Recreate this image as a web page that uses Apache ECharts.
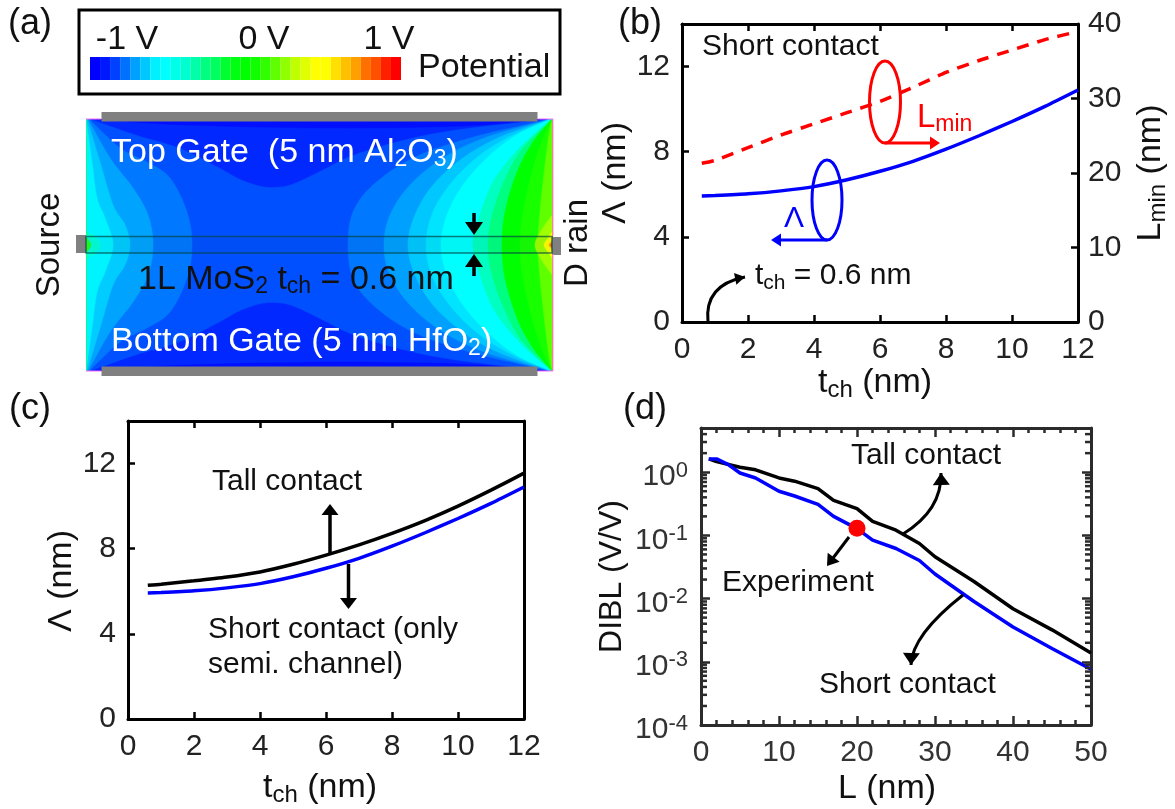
<!DOCTYPE html>
<html><head><meta charset="utf-8">
<style>html,body{margin:0;padding:0;background:#fff}#c{width:1175px;height:809px}</style>
<script src="https://cdn.jsdelivr.net/npm/echarts@6/dist/echarts.min.js"></script>
</head><body><div id="c"></div>
<script>
// ---------- panel (b)/(c) data ----------
const tch = [0.6,1,2,3,4,5,6,7,8,9,10,11,12];
const lambdaShort = [5.92,5.94,6.02,6.16,6.36,6.68,7.08,7.55,8.12,8.75,9.42,10.13,10.9];
const lambdaTall = [6.28,6.33,6.49,6.67,6.91,7.27,7.7,8.18,8.72,9.32,10.0,10.75,11.55];
const lMin = [21.3,21.7,23.4,25.1,26.6,28.1,29.6,31.5,33.5,35.1,36.5,37.9,39];
// ---------- panel (d) data ----------
const lTall = [1,2,5,7,10,12,15,17,20,22,25,28,30,35,40,45,50];
const dibTall = [1.62,1.47,1.2,1.09,0.81,0.72,0.55,0.358,0.265,0.167,0.121,0.0745,0.0459,0.0186,0.0069,0.0032,0.00138];
const lShort = [1,2,3.5,5,7,10,12,15,17,20,22,25,28,30,35,40,45,50];
const dibShort = [1.62,1.62,1.32,0.97,0.81,0.5,0.42,0.31,0.2,0.128,0.084,0.062,0.04,0.0245,0.009,0.00355,0.00162,0.00076];
const experiment = [[20,0.13]];
const logMinorTicks = [2e-4,3e-4,4e-4,5e-4,6e-4,7e-4,8e-4,9e-4,2e-3,3e-3,4e-3,5e-3,6e-3,7e-3,8e-3,9e-3,
  0.02,0.03,0.04,0.05,0.06,0.07,0.08,0.09,0.2,0.3,0.4,0.5,0.6,0.7,0.8,0.9,2,3,4];
// ---------- panel (a) colour bar ----------
const barLevels = ['-1.00','-0.93','-0.87','-0.80','-0.73','-0.67','-0.60','-0.53','-0.47','-0.40','-0.33','-0.27','-0.20','-0.13','-0.07','0.00','0.07','0.13','0.20','0.27','0.33','0.40','0.47','0.53','0.60','0.67','0.73','0.80','0.87','0.93','1.00'];
const barColors = ['#0000ff','#0018ff','#0040ff','#0070ff','#00a0ff','#00c8ff','#00f0ff','#00ffff','#00ffe8','#00ffd0','#00ffa8','#00ff80','#00ff60','#00ff30','#00ff10','#00ff00','#10ff00','#30ff00','#60ff00','#90ff00','#c0ff00','#e0ff00','#ffff00','#ffff00','#ffe000','#ffc000','#ffa000','#ff7000','#ff5000','#ff2000','#ff0000'];
// ---------- panel (a) contours: device x, distance from gate (upper half, mirrored about channel) ----------
const contourLeftD = [[3,0],[34,29],[61,43],[84,59],[101,93],[106,126]];
const contourLeftC = [[2,0],[24,39],[47,69],[62,96],[67,126]];
const contourLeftB = [[1,0],[14,43],[27,86],[39,106],[44,126]];
const contourLeftA = [[0,0],[6,43],[11,79],[19,99],[27,126]];
const contourRight1 = [[262,126],[267,93],[287,66],[327,39],[384,19],[447,4],[464,0]];
const contourRight2 = [[298,126],[304,96],[324,66],[357,39],[401,18],[465,0]];
const contourRight3 = [[322,126],[329,96],[347,66],[377,39],[414,18],[465,0]];
const contourRight4 = [[340,126],[347,93],[366,63],[394,36],[427,16],[465,0]];
const contourRight5 = [[355,126],[361,96],[377,66],[404,36],[434,14],[466,0]];
const contourRight6 = [[387,126],[394,96],[407,63],[427,36],[447,16],[466,0]];
const contourRight7 = [[402,126],[407,93],[421,56],[437,29],[466,0]];
const contourRight8 = [[416,126],[419,93],[431,53],[447,23],[466,0]];
const contourRight9 = [[434,126],[437,93],[447,49],[457,19],[466,0]];
const contourRight10 = [[452,126],[454,93],[459,46],[464,9],[467,0]];
const contourDrainA = [[467,95],[455,112],[449,126]];
const contourDrainB = [[467,112],[462,119],[458,126]];
const contourDrainC = [[467,119],[465,123],[463,126]];
const contourDrainD = [[467,122],[466,124],[465,126]];
const contourSourceA = [[0,112],[10,118],[14,126]];
const contourSourceB = [[0,118],[3,122],[5,126]];
const contourGate = [[5,0],[51,16],[94,29],[134,49],[152,59],[171,66],[187,68],[206,65],[234,52],[267,36],[317,21],[367,11],[434,3],[454,0]];
const contourGateDeep = [[10,0],[100,6],[250,9],[375,7],[440,2],[460,0]];

const contourLayers = [
  {pts:[[0,-1],[467,-1]],side:'base',color:'#0050ff'},
  {pts:contourLeftD,side:'left',color:'#0078ff'},
  {pts:contourLeftC,side:'left',color:'#00a4ff'},
  {pts:contourLeftB,side:'left',color:'#00ccff'},
  {pts:contourLeftA,side:'left',color:'#00f4ff'},
  {pts:contourRight1,side:'right',color:'#0078ff'},
  {pts:contourRight2,side:'right',color:'#00a0ff'},
  {pts:contourRight3,side:'right',color:'#00c8ff'},
  {pts:contourRight4,side:'right',color:'#00e4ff'},
  {pts:contourRight5,side:'right',color:'#00ffff'},
  {pts:contourRight6,side:'right',color:'#00ffc0'},
  {pts:contourRight7,side:'right',color:'#00ff80'},
  {pts:contourRight8,side:'right',color:'#00ff00'},
  {pts:contourRight9,side:'right',color:'#18ff00'},
  {pts:contourRight10,side:'right',color:'#60ff00'},
  {pts:contourDrainA,side:'right',color:'#a0ff00'},
  {pts:contourDrainB,side:'right',color:'#ffff00'},
  {pts:contourDrainC,side:'right',color:'#ffa000'},
  {pts:contourDrainD,side:'right',color:'#ff2000'},
  {pts:contourSourceA,side:'left',color:'#00ffd8'},
  {pts:contourSourceB,side:'left',color:'#20ff20'},
  {pts:contourGate,side:'gate',color:'#0028ff'},
  {pts:contourGateDeep,side:'gate',color:'#0010ff'}
];

const FONT = '"Liberation Sans", Arial, sans-serif';
const INK = '#111';
const spline = pts => {           // smooth drawing of a traced contour
  const out = [];
  for (let i = 0; i < pts.length - 1; i++) {
    const p0 = pts[Math.max(i-1,0)], p1 = pts[i], p2 = pts[i+1], p3 = pts[Math.min(i+2,pts.length-1)];
    for (let k = 0; k < 10; k++) {
      const t = k/10, t2 = t*t, t3 = t2*t;
      out.push([0,1].map(d => 0.5*(2*p1[d] + (p2[d]-p0[d])*t + (2*p0[d]-5*p1[d]+4*p2[d]-p3[d])*t2 + (3*p1[d]-p0[d]-3*p2[d]+p3[d])*t3)));
    }
  }
  out.push(pts[pts.length-1]);
  return out;
};
const H = 252, W = 467;
function layerPolys(l){
  const mirror = p => [p[0], H-p[1]];
  if (l.side === 'base') return [[[0,0],[W,0],[W,H],[0,H]]];
  if (l.side === 'gate') {
    const c = spline(l.pts);
    return [c, c.map(mirror)];
  }
  const startsAtTop = l.pts[0][1] < l.pts[l.pts.length-1][1];
  const top = startsAtTop ? l.pts : l.pts.slice().reverse();
  const knots = top.concat(top.slice(0,-1).reverse().map(mirror));
  const wall = l.side === 'left' ? 0 : W;
  return [spline(knots).concat([[wall,H],[wall,0]])];
}

const subStyle = (c,fs) => ({fontSize:fs||21,fontFamily:FONT,fill:c,color:c,verticalAlign:'bottom',padding:[14,0,0,0]});

// ---------- annotation helpers ----------
const Z = 50;
function txt(x,y,t,o={}){
  const c = o.color||INK, fs = o.size||30;
  return {type:'text',x,y:y+(o.rot?0:4),rotation:o.rot||0,z:Z+2,silent:true,style:{text:t,fontSize:fs,fontFamily:FONT,fill:c,
    align:o.align||'left',verticalAlign:'middle',rich:{sub:subStyle(c,o.sub)}}};
}
function head(x,y,dx,dy,c,len,wid){
  const n = Math.hypot(dx,dy), ux=dx/n, uy=dy/n;
  return {type:'polygon',z:Z+1,silent:true,shape:{points:[[x,y],[x-ux*len-uy*wid/2,y-uy*len+ux*wid/2],[x-ux*len+uy*wid/2,y-uy*len-ux*wid/2]]},style:{fill:c}};
}
function arrow(x1,y1,x2,y2,c,lw,len,wid){
  const n=Math.hypot(x2-x1,y2-y1), sx=x2-(x2-x1)/n*len*0.8, sy=y2-(y2-y1)/n*len*0.8;
  return [{type:'line',z:Z,silent:true,shape:{x1,y1,x2:sx,y2:sy},style:{stroke:c,lineWidth:lw}},head(x2,y2,x2-x1,y2-y1,c,len,wid)];
}
function curved(x1,y1,cx,cy,x2,y2,c,lw,len,wid){
  return [{type:'bezierCurve',z:Z,silent:true,shape:{x1,y1,cpx1:cx,cpy1:cy,x2,y2},style:{stroke:c,lineWidth:lw,fill:'none'}},head(x2,y2,x2-cx,y2-cy,c,len,wid)];
}
function rect(x,y,w,h,fill,stroke,lw){
  return {type:'rect',z:Z,silent:true,shape:{x,y,width:w,height:h},style:{fill:fill||'none',stroke:stroke||'none',lineWidth:lw||0}};
}
function ell(cx,cy,rx,ry,c){return {type:'ellipse',z:Z,silent:true,shape:{cx,cy,rx,ry},style:{fill:'none',stroke:c,lineWidth:3}};}
function seg(x1,y1,x2,y2,c,lw){return {type:'line',z:Z,silent:true,shape:{x1,y1,x2,y2},style:{stroke:c,lineWidth:lw}};}

const graphics = [
  // panel letters
  txt(8,20,'(a)',{size:36}), txt(618,20,'(b)',{size:36}), txt(9,405,'(c)',{size:36}), txt(623,405,'(d)',{size:36}),
  // panel (a) legend frame and texts
  rect(79,10,481,84,'none','#000',3),
  txt(127,36,'-1 V',{size:34,align:'center'}), txt(264,36,'0 V',{size:34,align:'center'}), txt(389,36,'1 V',{size:34,align:'center'}),
  txt(418,64,'Potential',{size:34}),
  // gates and contacts
  rect(101.5,112,436,9.5,'#808080'), rect(101.5,366.5,436,9.5,'#808080'),
  rect(76,235,10,18,'#808080'), rect(552,237,9,18,'#808080'),
  seg(86,119,101,119,'#ff66ff',1), seg(538,119,553,119,'#ff66ff',1), seg(553,119,553,236,'#ff88ff',1), seg(553,254,553,371,'#ff88ff',1),
  seg(86,371,101,371,'#ff66ff',1), seg(538,371,553,371,'#ff66ff',1),
  rect(86,236.5,466,16.5,'rgba(0,60,60,0.05)','rgba(0,70,70,0.7)',1.5),
  txt(111,149,'Top Gate  (5 nm Al{sub|2}O{sub|3})',{color:'#fff',size:34,sub:23}),
  txt(111,338,'Bottom Gate (5 nm HfO{sub|2})',{color:'#fff',size:34,sub:23}),
  txt(138,276,'1L MoS{sub|2} t{sub|ch} = 0.6 nm',{size:34,sub:23}),
  txt(50,245,'Source',{size:33,rot:Math.PI/2,align:'center'}),
  txt(578,243,'D rain',{size:33,rot:Math.PI/2,align:'center'}),
  ...arrow(474,213,474,235,'#000',3.5,13,18), ...arrow(474,276,474,254,'#000',3.5,13,18),
  // panel (b) annotations
  txt(702,43,'Short contact',{size:30}),
  ell(885,102,15.5,41,'#ff0000'), ...arrow(885,143,940,143,'#ff0000',3,10,13),
  txt(917,114,'L{sub|min}',{size:33,color:'#ff0000',sub:23}),
  ell(827,200,15,40,'#0000ff'), ...arrow(827,240,771,240,'#0000ff',3,10,13),
  txt(794,215,'Λ',{size:30,color:'#0000ff',align:'center'}),
  txt(755,272,'t{sub|ch} = 0.6 nm',{size:30,sub:21}),
  ...curved(708,322,704,285,745,277,'#000',3,10,12),
  // panel (c) annotations
  txt(212,478,'Tall contact',{size:30}),
  ...arrow(330,553,330,504,'#000',3.5,11,17), ...arrow(348.5,564,348.5,609,'#000',3.5,11,17),
  txt(208,626,'Short contact (only',{size:30}), txt(208,661,'semi. channel)',{size:30}),
  // panel (d) annotations
  txt(851,452,'Tall contact',{size:30}), txt(819,681,'Short contact',{size:30}), txt(722,579,'Experiment',{size:30}),
  ...curved(903,534,942,510,941,473,'#000',3,12,17),
  ...curved(963,595,912,635,911,665,'#000',3,12,17),
  ...arrow(849,537,827,566,'#000',3,11,15)
];

// ---------- axes ----------
const axisLine = (c='#000',w=3) => ({show:true,onZero:false,lineStyle:{color:c,width:w}});
const labelSt = (m,c='#222') => ({fontSize:30,fontFamily:FONT,color:c,margin:m,hideOverlap:false});
const nameRich = {sub:{fontSize:24,fontFamily:FONT,color:INK,verticalAlign:'bottom',padding:[14,0,0,0]}};
const nameSt = (pad,fs) => ({fontSize:fs||34,fontFamily:FONT,color:INK,rich:nameRich,padding:pad||0});
const tickSt = (l=7,c='#000') => ({show:true,inside:true,length:l,lineStyle:{color:c,width:2.5}});

function linearX(grid,min,max,interval,nameStr,gap,pad){
  return {type:'value',gridIndex:grid,min,max,interval,position:'bottom',axisLine:axisLine(),axisTick:tickSt(),splitLine:{show:false},
    axisLabel:labelSt(13),name:nameStr,nameLocation:'middle',nameGap:gap,nameTextStyle:nameSt(pad)};
}
function topX(grid,min,max,interval,c,minor,len){
  return {type:'value',gridIndex:grid,min,max,interval,position:'top',axisLine:axisLine(c||'#000'),axisTick:tickSt(len||7,c||'#000'),
    axisLabel:{show:false},splitLine:{show:false},minorTick:minor?{show:true,splitNumber:5,length:5,lineStyle:{color:c,width:2.5}}:{show:false}};
}
function lambdaY(grid,gap,pad){
  return {type:'value',gridIndex:grid,min:0,max:14,interval:4,position:'left',axisLine:axisLine(),axisTick:tickSt(),splitLine:{show:false},
    axisLabel:{...labelSt(12),showMaxLabel:false},name:'Λ (nm)',nameLocation:'middle',nameGap:gap,nameTextStyle:nameSt(pad)};
}
const DK = '#2b2b2b';
const logLabel = v => {
  const e = Math.round(Math.log10(v));
  return Math.abs(v/Math.pow(10,e)-1) < 1e-6 ? '10{sup|'+e+'}' : '';
};

const option = {
  animation:false,
  backgroundColor:'#fff',
  textStyle:{fontFamily:FONT},
  graphic:graphics,
  grid:[
    {left:86,top:119,width:467,height:252},
    {left:90,top:57,width:311,height:23},
    {left:682,top:24,width:396,height:298},
    {left:128,top:421,width:396,height:298},
    {left:701,top:428,width:390,height:297}
  ],
  xAxis:[
    {type:'value',gridIndex:0,min:0,max:W,show:false},
    {type:'category',gridIndex:1,data:barLevels,show:false,boundaryGap:true},
    linearX(2,0,12,2,'t{sub|ch} (nm)',40,[0,10,0,0]),
    topX(2,0,12,2),
    linearX(3,0,12,2,'t{sub|ch} (nm)',50,[0,12,0,0]),
    topX(3,0,12,2),
    {type:'value',gridIndex:4,min:0,max:50,interval:10,position:'bottom',axisLine:axisLine(DK),axisTick:tickSt(9,DK),
      minorTick:{show:true,splitNumber:5,length:5,lineStyle:{color:DK,width:2.5}},splitLine:{show:false},
      axisLabel:labelSt(13,'#333'),name:'L (nm)',nameLocation:'middle',nameGap:47,nameTextStyle:nameSt([0,18,0,0])},
    topX(4,0,50,10,DK,true,9)
  ],
  yAxis:[
    {type:'value',gridIndex:0,min:0,max:H,inverse:true,show:false},
    {type:'value',gridIndex:1,min:0,max:1,show:false},
    lambdaY(2,32),
    {type:'value',gridIndex:2,min:0,max:40,interval:10,position:'right',axisLine:axisLine(),axisTick:tickSt(),splitLine:{show:false},
      axisLabel:labelSt(10),name:'L{sub|min} (nm)',nameLocation:'middle',nameGap:54,nameRotate:90,nameTextStyle:nameSt()},
    lambdaY(3,31,[0,22,0,0]),
    {type:'value',gridIndex:3,min:0,max:14,position:'right',axisLine:axisLine(),axisTick:{show:false},axisLabel:{show:false},splitLine:{show:false}},
    {type:'log',logBase:10,gridIndex:4,min:1e-4,max:5,position:'left',axisLine:axisLine(DK),axisTick:tickSt(9,DK),splitLine:{show:false},minorTick:{show:false},
      axisLabel:{...labelSt(13,'#333'),padding:[10,0,0,0],formatter:logLabel,rich:{sup:{fontSize:22,fontFamily:FONT,color:'#333',verticalAlign:'top',padding:[0,0,13,0]}}},
      name:'DIBL (V/V)',nameLocation:'middle',nameGap:73,nameTextStyle:nameSt(0,32)},
    {type:'log',logBase:10,gridIndex:4,min:1e-4,max:5,position:'right',axisLine:axisLine(DK),axisTick:tickSt(9,DK),splitLine:{show:false},minorTick:{show:false},axisLabel:{show:false}}
  ],
  series:[
    {type:'custom',name:'Potential contours',xAxisIndex:0,yAxisIndex:0,clip:true,silent:true,
      data:contourLayers.map((l,i)=>[i]),encode:{x:[],y:[]},
      renderItem:(p,api)=>{
        const l = contourLayers[api.value(0)];
        return {type:'group',children:layerPolys(l).map(poly=>({type:'polygon',shape:{points:poly.map(q=>api.coord(q))},style:{fill:l.color,stroke:l.color,lineWidth:0.5}}))};
      }},
    {type:'bar',name:'Potential scale',xAxisIndex:1,yAxisIndex:1,barCategoryGap:'0%',silent:true,
      data:barLevels.map((_,i)=>({value:1,itemStyle:{color:barColors[i]}}))},
    {type:'line',name:'Lmin',xAxisIndex:2,yAxisIndex:3,data:tch.map((x,i)=>[x,lMin[i]]),symbol:'none',smooth:0.2,
      lineStyle:{color:'#ff0000',width:3.5,type:[12,9]},z:3},
    {type:'line',name:'Λ short (b)',xAxisIndex:2,yAxisIndex:2,data:tch.map((x,i)=>[x,lambdaShort[i]]),symbol:'none',smooth:0.2,
      lineStyle:{color:'#0000ff',width:3.5},z:3},
    {type:'line',name:'Λ tall',xAxisIndex:4,yAxisIndex:4,data:tch.map((x,i)=>[x,lambdaTall[i]]),symbol:'none',smooth:0.2,
      lineStyle:{color:'#000',width:3.5},z:3},
    {type:'line',name:'Λ short (c)',xAxisIndex:4,yAxisIndex:4,data:tch.map((x,i)=>[x,lambdaShort[i]]),symbol:'none',smooth:0.2,
      lineStyle:{color:'#0000ff',width:3.5},z:3},
    {type:'line',name:'DIBL tall',xAxisIndex:6,yAxisIndex:6,data:lTall.map((x,i)=>[x,dibTall[i]]),symbol:'none',
      lineStyle:{color:'#000',width:3.5},z:3},
    {type:'line',name:'DIBL short',xAxisIndex:6,yAxisIndex:6,data:lShort.map((x,i)=>[x,dibShort[i]]),symbol:'none',
      lineStyle:{color:'#0000ff',width:3.5},z:4},
    {type:'scatter',name:'Experiment',xAxisIndex:6,yAxisIndex:6,data:experiment,symbol:'circle',symbolSize:17,
      itemStyle:{color:'#ff0000',opacity:1},z:5},
    {type:'custom',name:'Log minor ticks',xAxisIndex:6,yAxisIndex:6,clip:false,silent:true,
      data:logMinorTicks.map(v=>[0,v]),encode:{x:0,y:1},z:6,
      renderItem:(p,api)=>{
        const a = api.coord([0,api.value(1)]), b = api.coord([50,api.value(1)]);
        const st = {stroke:DK,lineWidth:2.5};
        return {type:'group',children:[
          {type:'line',shape:{x1:a[0],y1:a[1],x2:a[0]+6,y2:a[1]},style:st},
          {type:'line',shape:{x1:b[0],y1:b[1],x2:b[0]-6,y2:b[1]},style:st}
        ]};
      }}
  ]
};
echarts.init(document.getElementById('c')).setOption(option);
</script></body></html>
